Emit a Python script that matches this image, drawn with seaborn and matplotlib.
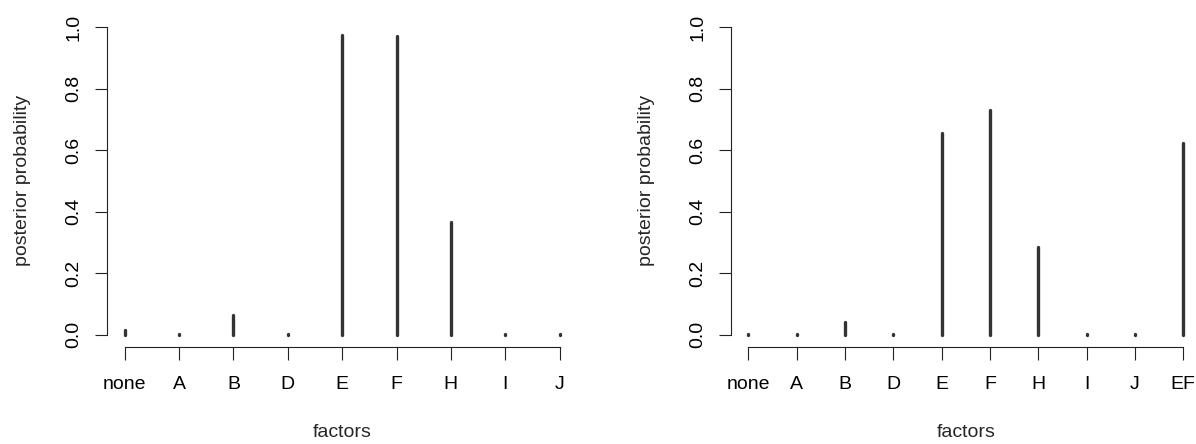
import matplotlib
matplotlib.use("Agg")
import matplotlib.pyplot as plt
import seaborn as sns
import pandas as pd
import numpy as np

# ---- data ----
factors_left = ["none", "A", "B", "D", "E", "F", "H", "I", "J"]
probs_left = [0.015, 0.002, 0.065, 0.002, 0.975, 0.972, 0.365, 0.002, 0.003]

factors_right = ["none", "A", "B", "D", "E", "F", "H", "I", "J", "EF"]
probs_right = [0.003, 0.003, 0.040, 0.002, 0.655, 0.732, 0.285, 0.002, 0.002, 0.623]

y_ticks = [0.0, 0.2, 0.4, 0.6, 0.8, 1.0]
y_ticklabels = ["0.0", "0.2", "0.4", "0.6", "0.8", "1.0"]

sns.set_theme(style="white")
plt.rcParams["font.family"] = ["Liberation Sans", "DejaVu Sans"]

FS = 14
W, H = 1196, 444
fig = plt.figure(figsize=(W / 100, H / 100), dpi=100)

def make_panel(rect, factors, probs):
    ax = fig.add_axes(rect)
    n = len(factors)
    pos = np.arange(n)
    df = pd.DataFrame({
        "pos": np.repeat(pos, 2),
        "prob": np.ravel([[0.0, p] for p in probs]),
        "factor": np.repeat(factors, 2),
    })
    sns.lineplot(data=df, x="pos", y="prob", units="factor", estimator=None,
                 sort=False, color="#333333", linewidth=2.4,
                 solid_capstyle="round", ax=ax, legend=False)
    pad = 0.04 * (n - 1)
    ax.set_xlim(-pad, n - 1 + pad)
    ax.set_ylim(-0.04, 1.04)
    for s in ["top", "right"]:
        ax.spines[s].set_visible(False)
    ax.spines["left"].set_bounds(0, 1)
    ax.spines["bottom"].set_bounds(0, n - 1)
    for s in ["left", "bottom"]:
        ax.spines[s].set_color("#222222")
        ax.spines[s].set_linewidth(0.8)
    ax.set_xticks(pos)
    ax.set_xticklabels(factors, fontsize=FS)
    ax.set_yticks(y_ticks)
    ax.set_yticklabels(y_ticklabels, fontsize=FS, rotation=90, va="center")
    ax.tick_params(axis="both", direction="out", length=9, width=0.8,
                   color="#222222", labelcolor="black", left=True, bottom=True)
    ax.tick_params(axis="x", pad=12)
    ax.tick_params(axis="y", pad=9)
    ax.set_xlabel("factors", fontsize=FS)
    ax.set_ylabel("posterior probability", fontsize=FS)
    ax.grid(False)
    ax.set_facecolor("white")
    return ax

axL = make_panel([107.3 / W, (H - 346.8) / H, 469.7 / W, 331.8 / H],
                 factors_left, probs_left)
axR = make_panel([731.0 / W, (H - 346.8) / H, 469.5 / W, 331.8 / H],
                 factors_right, probs_right)

for ax, wpx in [(axL, 469.7), (axR, 469.5)]:
    ax.yaxis.set_label_coords(-(107.3 - 22.5) / wpx, 0.5)
    ax.xaxis.set_label_coords(0.5, -(424.0 - 346.8) / 331.8)
    ax.xaxis.label.set_va("top")
    ax.yaxis.label.set_va("center")

fig.savefig("out.png", dpi=100, facecolor="white")
